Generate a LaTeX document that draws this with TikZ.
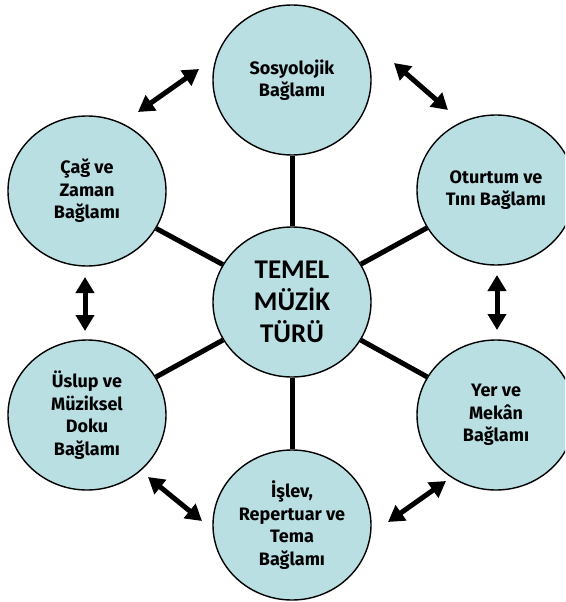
\documentclass[tikz,border=0pt]{standalone}
\usepackage{fontspec}
\setmainfont{Fira Sans}
\newfontfamily\corefont{Carlito}
\usetikzlibrary{shapes.geometric,arrows.meta}
\definecolor{paleteal}{HTML}{B9DFE3}
\tikzset{
  context/.style={ellipse,draw=black,line width=1.4pt,fill=paleteal,minimum width=158pt,minimum height=150pt,inner sep=0pt,align=center,font=\bfseries\fontsize{18}{22.5}\selectfont},
  core/.style={context,font=\corefont\bfseries\fontsize{27}{32}\selectfont},
  spoke/.style={line width=5pt},
  twoway/.style={line width=5pt,{Triangle[length=16pt,width=18pt]}-{Triangle[length=16pt,width=18pt]}}
}
\begin{document}
\begin{tikzpicture}[x=1pt,y=-1pt]
\clip (0,0) rectangle (565,602);

% center and the six contexts
\node[core] (core) at (292,302) {TEMEL\\MÜZİK\\TÜRÜ};
\node[context] (soc) at (292,80) {Sosyolojik\\Bağlamı};
\node[context] (cag) at (87,191) {Çağ ve\\Zaman\\Bağlamı};
\node[context] (otu) at (496,190) {Oturtum ve\\Tını Bağlamı};
\node[context] (usl) at (87,415) {Üslup ve\\Müziksel\\Doku\\Bağlamı};
\node[context] (yer) at (496,415) {Yer ve\\Mekân\\Bağlamı};
\node[context] (isl) at (292,525) {İşlev,\\Repertuar ve\\Tema\\Bağlamı};

\foreach \n in {soc,cag,otu,usl,yer,isl}
    \draw[spoke] (core) -- (\n);

% double arrows between neighbours
\coordinate (socL) at (199,69);  \coordinate (cagT) at (138,112);
\coordinate (socR) at (394,63);  \coordinate (otuT) at (448,110);
\coordinate (otuB) at (497,275); \coordinate (yerT) at (497,330);
\coordinate (cagB) at (85,277);  \coordinate (uslT) at (85,331);
\coordinate (uslB) at (148,477); \coordinate (islL) at (202,521);
\coordinate (yerB) at (446,481); \coordinate (islR) at (388,522);

\draw[twoway] (socL) -- (cagT);
\draw[twoway] (socR) -- (otuT);
\draw[twoway] (otuB) -- (yerT);
\draw[twoway] (cagB) -- (uslT);
\draw[twoway] (uslB) -- (islL);
\draw[twoway] (yerB) -- (islR);
\end{tikzpicture}
\end{document}
